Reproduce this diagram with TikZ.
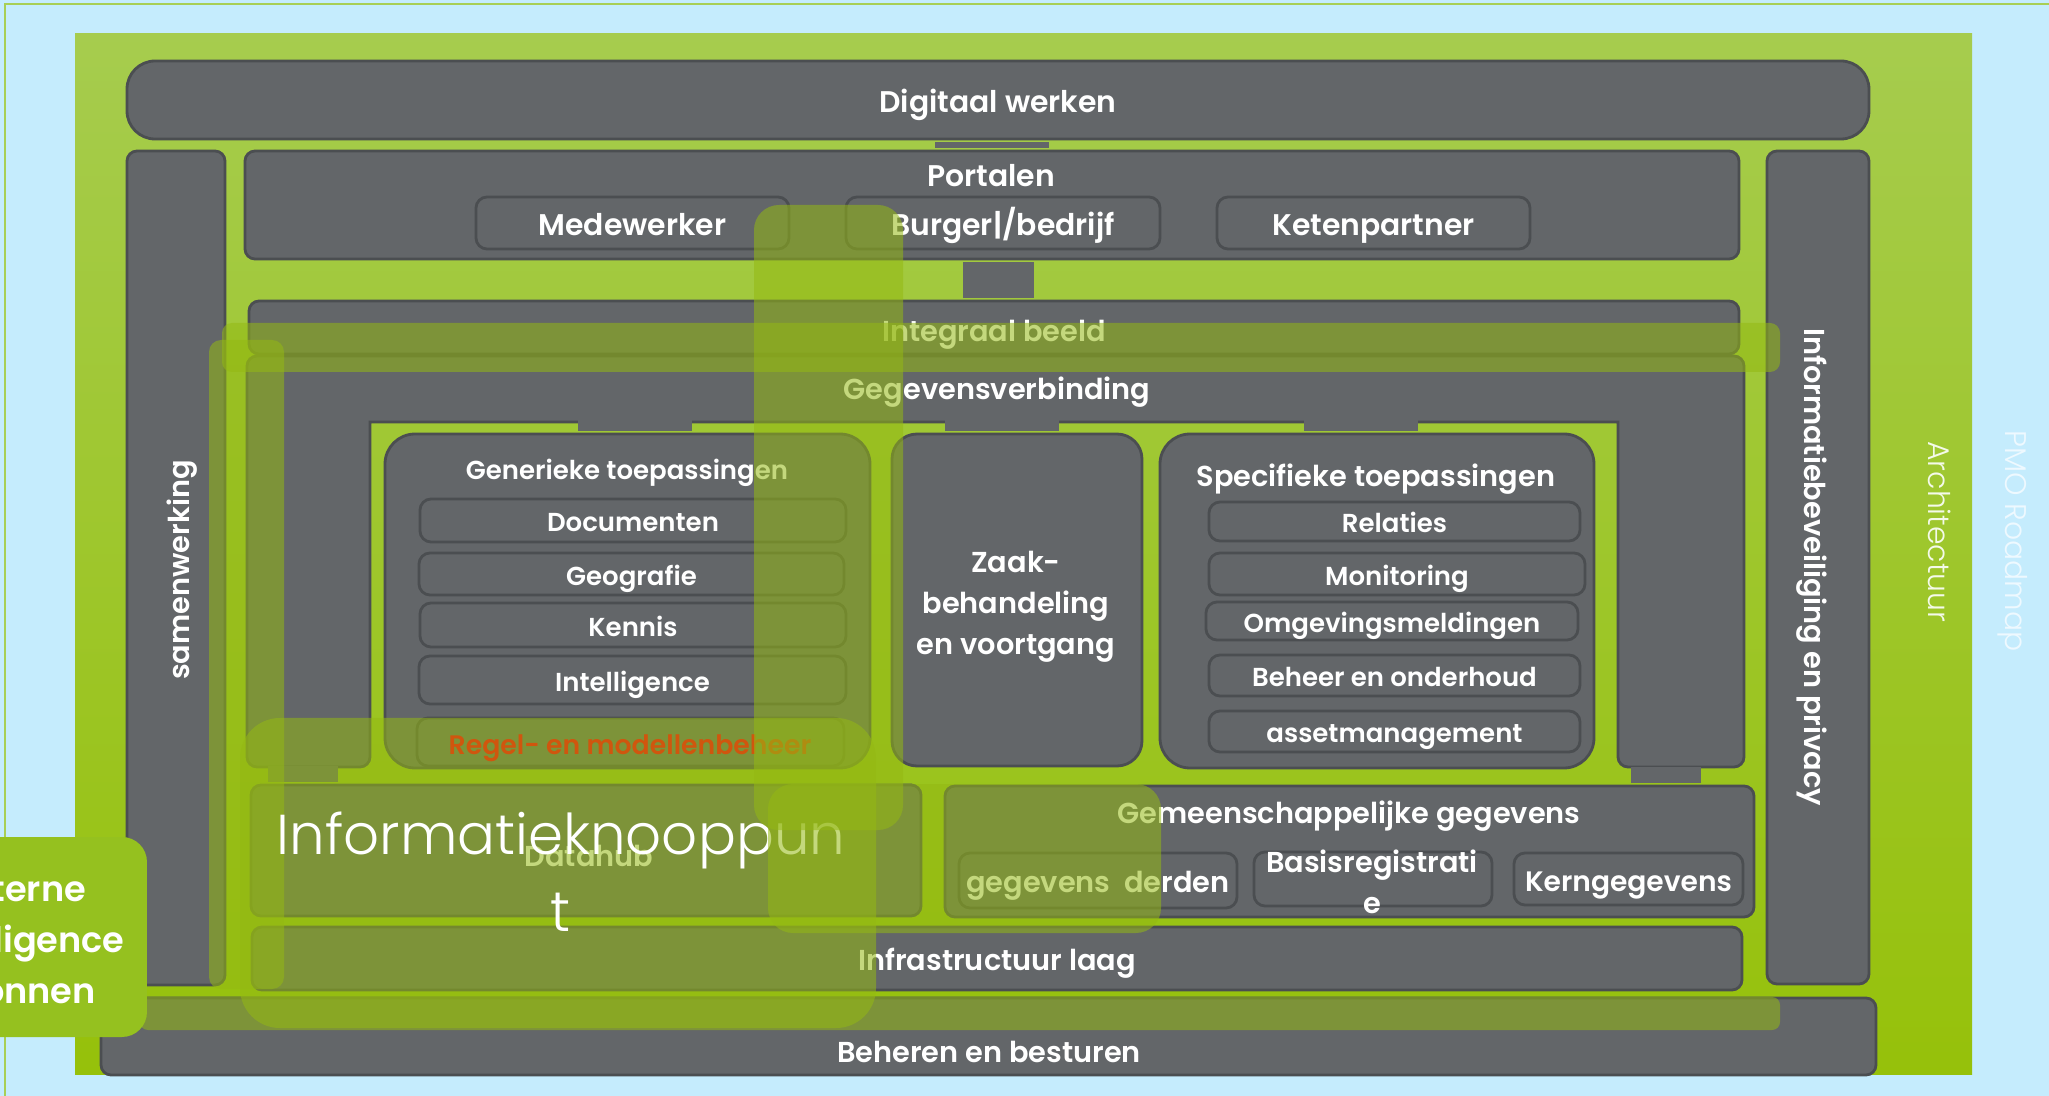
\documentclass[tikz,border=0pt]{standalone}
\usepackage{fontspec}
\setmainfont{Poppins}
\newfontfamily\psemi{Poppins SemiBold}
\newfontfamily\plight{Poppins Light}
\definecolor{skyblue}{HTML}{C5ECFD}
\definecolor{framegreen}{HTML}{A8CF55}
\definecolor{lawntop}{HTML}{A6CC4E}
\definecolor{lawnbot}{HTML}{96C10A}
\definecolor{slab}{HTML}{636669}
\definecolor{slabedge}{HTML}{4B4E51}
\definecolor{veil}{HTML}{94B913}
\definecolor{extgreen}{HTML}{95C11F}
\definecolor{ruleorange}{HTML}{D0560E}
\definecolor{archwhite}{HTML}{F4FAEA}
\definecolor{pmowhite}{HTML}{EEF9FF}

\begin{document}
\begin{tikzpicture}[
  x=0.1mm, y=-0.1mm,
  font=\psemi\fontsize{8.2}{10}\selectfont, text=white,
  txtfix/.style={text height=8pt, text depth=1pt},
  headtext/.style={font=\psemi\fontsize{8.5}{10}\selectfont},
  listtext/.style={font=\psemi\fontsize{7.4}{9}\selectfont, text height=7.4pt, text depth=0.9pt},
  slabbox/.style={draw=slabedge, fill=slab, line width=0.28mm, rounded corners=1mm, inner sep=0pt, txtfix},
  itembox/.style={slabbox, rounded corners=1.1mm},
  lbl/.style={inner sep=0pt, text=white, txtfix},
  stub/.style={fill=slab},
  veilbox/.style={fill=veil, fill opacity=0.55, rounded corners=#1},
  thinlbl/.style={inner sep=0pt, font=\plight\fontsize{8.5}{10}\selectfont, text height=8pt, text depth=1pt}
]
\useasboundingbox (0,0) rectangle (2049,1096);
\clip (0,0) rectangle (2049,1096);
\fill[skyblue] (0,0) rectangle (2049,1096);
\draw[framegreen, line width=0.15mm] (5,1100) -- (5,4) -- (2055,4);
\shade[top color=lawntop, bottom color=lawnbot] (75,34) rectangle (1972,1074);

% bovenste lagen
\node[slabbox, headtext, rounded corners=2.8mm, minimum width=174.2mm, minimum height=7.8mm] (dw) at (998,100) {Digitaal werken};
\node[slabbox, minimum width=9.8mm, minimum height=83.4mm] (samen) at (176,568) {};
\node[lbl, rotate=90] (samen-t) at (177,570) {samenwerking};
\node[slabbox, minimum width=149.4mm, minimum height=10.8mm] (portalen) at (992,205) {};
\node[lbl, headtext] (portalen-t) at (991,174) {Portalen};
\node[itembox, headtext, minimum width=31.3mm, minimum height=5.2mm] (medew) at (632.5,223) {Medewerker};
\node[itembox, headtext, minimum width=31.4mm, minimum height=5.2mm] (burger) at (1003,223) {Burger|/bedrijf};
\node[itembox, headtext, minimum width=31.3mm, minimum height=5.2mm] (keten) at (1373.5,223) {Ketenpartner};
\fill[stub] ([xshift=-6.3mm,yshift=-0.13mm]dw.south) rectangle ([xshift=5.7mm,yshift=0.13mm]portalen.north);
\node[slabbox, minimum width=10.2mm, minimum height=83.3mm] (infosec) at (1818,567.5) {};
\node[lbl, rotate=-90] (infosec-t) at (1817,567) {Informatiebeveiliging en privacy};
\node[slabbox, minimum width=149mm, minimum height=5.3mm] (integraal) at (994,327.5) {};
\node[lbl] (integraal-t) at (994,329) {Integraal beeld};
\fill[stub] ([xshift=-2.9mm,yshift=-0.13mm]portalen.south) rectangle ([xshift=4mm,yshift=0.13mm]integraal.north);

% gegevensverbinding
\draw[draw=slabedge, fill=slab, line width=0.28mm] (1618,422) -- (370,422) -- (370,600) [rounded corners=1mm] -- (370,767) -- (247,767) -- (247,356) -- (1744,356) -- (1744,767) -- (1618,767) -- (1618,600) [sharp corners] -- cycle;
\node[lbl] (gv-t) at (997,387.5) {Gegevensverbinding};

\node[slabbox, rounded corners=3mm, minimum width=48.5mm, minimum height=33.4mm] (generiek) at (627.5,601) {};
\node[lbl, listtext] (generiek-t) at (627,468.5) {Generieke toepassingen};
\node[itembox, listtext, minimum width=42.6mm, minimum height=4.3mm] (docs) at (633,520.5) {Documenten};
\node[itembox, listtext, minimum width=42.5mm, minimum height=4.2mm] (geo) at (631.5,574) {Geografie};
\node[itembox, listtext, minimum width=42.6mm, minimum height=4.4mm] (kennis) at (633,625) {Kennis};
\node[itembox, listtext, minimum width=42.7mm, minimum height=4.8mm] (intel) at (632.5,680) {Intelligence};
\node[itembox, minimum width=42.7mm, minimum height=4.8mm] (regel) at (630.5,742) {};

\node[slabbox, rounded corners=2.5mm, minimum width=25mm, minimum height=33.2mm] (zaak) at (1017,600) {};
\node[inner sep=0pt, align=center, font=\psemi\fontsize{8.2}{11.7}\selectfont] (zaak-t) at (1016,607) {Zaak-\\behandeling\\en voortgang};

\node[slabbox, rounded corners=3mm, minimum width=43.4mm, minimum height=33.4mm] (specifiek) at (1377,601) {};
\node[lbl] (specifiek-t) at (1376,474) {Specifieke toepassingen};
\node[itembox, listtext, minimum width=37.1mm, minimum height=3.9mm] (relaties) at (1394.5,521.5) {Relaties};
\node[itembox, listtext, minimum width=37.6mm, minimum height=4.2mm] (monitor) at (1397,574) {Monitoring};
\node[itembox, listtext, minimum width=37.2mm, minimum height=3.8mm] (omgeving) at (1392,621) {Omgevingsmeldingen};
\node[itembox, listtext, minimum width=37.1mm, minimum height=4.1mm] (beheer) at (1394.5,675.5) {Beheer en onderhoud};
\node[itembox, listtext, minimum width=37.1mm, minimum height=4.1mm] (asset) at (1394.5,731.5) {assetmanagement};

\fill[stub] ([xshift=-4.95mm,yshift=0.13mm]generiek.north) rectangle ++(114,-11);
\fill[stub] ([xshift=-7.2mm,yshift=0.13mm]zaak.north) rectangle ++(114,-11);
\fill[stub] ([xshift=-7.3mm,yshift=0.13mm]specifiek.north) rectangle ++(114,-11);

% gegevenslaag
\node[slabbox, minimum width=67mm, minimum height=13.1mm] (datahub) at (586,850.5) {};
\node[lbl] (datahub-t) at (589,854) {Datahub};
\node[slabbox, minimum width=80.9mm, minimum height=13.1mm] (gemeen) at (1349.5,851.5) {};
\node[lbl] (gemeen-t) at (1349,811) {Gemeenschappelijke gegevens};
\node[itembox, minimum width=27.8mm, minimum height=5.5mm] (derden) at (1098,880.5) {gegevens\ \ derden};
\node[itembox, minimum width=23.8mm, minimum height=5.4mm] (basis) at (1373,879) {};
\node[inner sep=0pt, align=center, font=\psemi\fontsize{8.2}{11.5}\selectfont] (basis-t) at (1372,882) {Basisregistrati\\e};
\node[itembox, font=\psemi\fontsize{8}{10}\selectfont, minimum width=22.9mm, minimum height=5.2mm] (kern) at (1628.5,879) {Kerngegevens};
\fill[stub] ([xshift=-31.8mm,yshift=0.13mm]datahub.north) rectangle ++(70,-16);
\fill[stub] ([xshift=28.15mm,yshift=0.13mm]gemeen.north) rectangle ++(70,-16);

\node[slabbox, minimum width=149mm, minimum height=6.3mm] (infra) at (997,958.5) {};
\node[lbl] (infra-t) at (997,958.5) {Infrastructuur laag};
\node[slabbox, minimum width=177.5mm, minimum height=7.7mm] (beheren) at (988.5,1036.5) {};
\node[lbl] (beheren-t) at (989,1050) {Beheren en besturen};

% transparante markeringen
\fill[veilbox=1.2mm] (209,340) rectangle (284,989);
\fill[veilbox=1mm] (222,323) rectangle (1780,372);
\fill[veilbox=4mm] (240,718) rectangle (876,1028);
\fill[veilbox=0.8mm] (140,997) rectangle (1780,1030);
\node[lbl, listtext, text=ruleorange, font=\psemi\fontsize{7.6}{9}\selectfont] (regel-t) at (630,743) {Regel- en modellenbeheer};
\node[inner sep=0pt, align=center, font=\plight\fontsize{16}{21.8}\selectfont] (knoop) at (561,872) {Informatieknooppun\\t};
\fill[veilbox=2.5mm] (754,205) rectangle (903,830);
\fill[veilbox=2.5mm] (768,784) rectangle (1161,933);

% externe bronnen
\node[fill=extgreen, rounded corners=2.5mm, minimum width=18.7mm, minimum height=20mm] (externe) at (53.5,937) {};
\node[inner sep=0pt, align=center, font=\psemi\fontsize{10}{14.5}\selectfont] (externe-t) at (20,940) {Externe\\intelligence\\bronnen};

\node[thinlbl, text=archwhite, rotate=-90] (arch) at (1941,532) {Architectuur};
\node[thinlbl, text=pmowhite, rotate=-90] (pmo) at (2018,541) {PMO Roadmap};
\end{tikzpicture}
\end{document}
